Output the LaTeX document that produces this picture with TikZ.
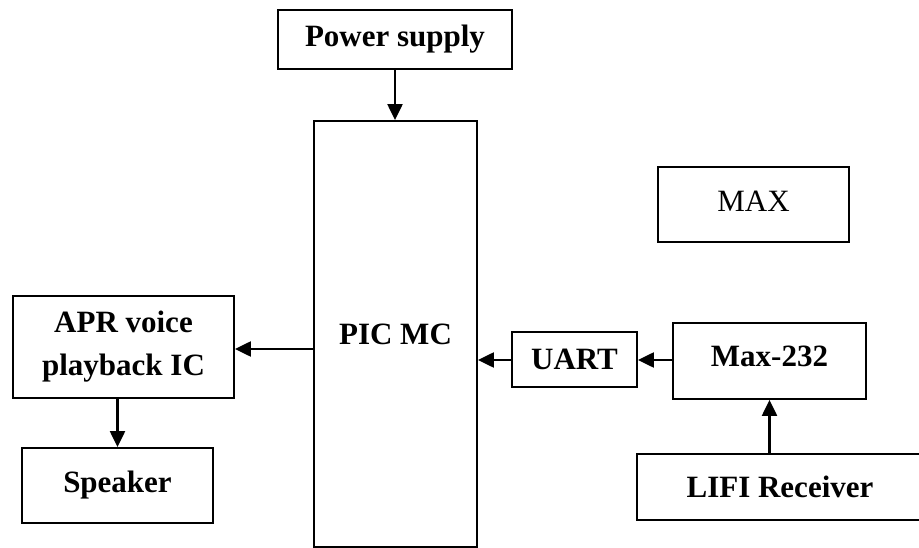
\documentclass[tikz,border=0pt]{standalone}
\usepackage{fontspec}
\setmainfont{Liberation Serif}
\usetikzlibrary{arrows.meta}
\tikzset{
  box/.style={draw=black, line width=1.8pt, rectangle, inner sep=0pt, font=\fontsize{31}{43}\selectfont\bfseries, align=center},
  plainbox/.style={box, font=\fontsize{31}{43}\selectfont},
  arr/.style={line width=2.2pt, -{Triangle[length=16pt,width=15pt]}}
}
\begin{document}
\begin{tikzpicture}[x=1pt,y=-1pt]
\useasboundingbox (0,0) rectangle (919,548);
\clip (0,0) rectangle (919,548);
\node[box, minimum width=234pt, minimum height=59pt] (pow) at (395,39.5) {\raisebox{-2pt}{Power supply}};
\node[box, minimum width=163pt, minimum height=426pt] (pic) at (395.5,334) {PIC MC};
\node[plainbox, minimum width=191pt, minimum height=75pt] (max) at (753.5,204.5) {\raisebox{7pt}{MAX}};
\node[box, minimum width=221pt, minimum height=102pt] (apr) at (123.5,347) {APR voice\\playback IC};
\node[box, minimum width=191pt, minimum height=75pt] (spk) at (117.5,485.5) {\raisebox{6pt}{Speaker}};
\node[box, minimum width=125pt, minimum height=55pt] (uart) at (574.5,359.5) {UART};
\node[box, minimum width=193pt, minimum height=76pt] (m232) at (769.5,361) {\raisebox{9pt}{Max-232}};
\node[box, minimum width=303pt, minimum height=66pt] (lifi) at (788.5,487) {LIFI Receiver\hspace*{17pt}};
\draw[arr] (pow.south) -- (pow.south |- pic.north);
\draw[arr] (pic.west |- 0,349) -- (apr.east |- 0,349);
\draw[arr] (apr.south -| spk.north) -- (spk.north);
\draw[arr] (uart.west |- 0,360) -- (pic.east |- 0,360);
\draw[arr] (m232.west |- 0,360) -- (uart.east |- 0,360);
\draw[arr] (lifi.north -| m232.south) -- (m232.south);
\end{tikzpicture}
\end{document}
